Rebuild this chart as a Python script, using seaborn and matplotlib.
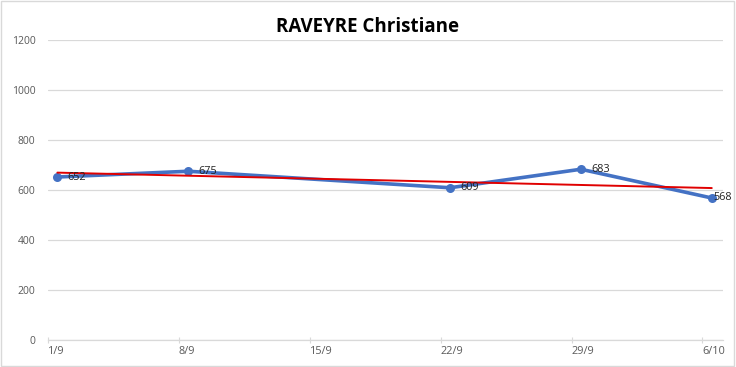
import numpy as np
import pandas as pd
import matplotlib
matplotlib.use("Agg")
import matplotlib.pyplot as plt
import seaborn as sns
from matplotlib.patches import Rectangle

title = "RAVEYRE Christiane"
days = [0, 7, 21, 28, 35]          # days since 1/9
values = [652, 675, 609, 683, 568]
tick_days = [0, 7, 14, 21, 28, 35]
tick_labels = ["1/9", "8/9", "15/9", "22/9", "29/9", "6/10"]
y_ticks = [0, 200, 400, 600, 800, 1000, 1200]

sns.set_theme(style="white")
plt.rcParams['font.family'] = ['Open Sans', 'DejaVu Sans']

fig = plt.figure(figsize=(7.36, 3.67), dpi=100)
ax = fig.add_axes([48/736, 1-340/367, (723-48)/736, (340-40)/367])

x = np.array(days) + 0.5
df = pd.DataFrame({"x": x, "y": values})
sns.lineplot(data=df, x="x", y="y", ax=ax, color="#4472C4", linewidth=2.6,
             marker="o", markersize=6.5, markeredgewidth=0, zorder=3)

# linear trend line
coef = np.polyfit(x, values, 1)
tx = np.array([x[0], x[-1]])
sns.lineplot(x=tx, y=np.polyval(coef, tx), ax=ax, color="#E00000", linewidth=1.4, zorder=4)

n = len(values)
for i, (xi, yi) in enumerate(zip(x, values)):
    off = 0.55 if i < n - 1 else 0.1
    ax.text(xi + off, yi, str(yi), fontsize=7.8, color="#222222", va="center", ha="left", zorder=5)

ax.set_xlim(0, 36.1)
ax.set_ylim(0, 1200)
ax.set_yticks(y_ticks)
ax.set_yticklabels([str(v) for v in y_ticks], fontsize=7.5, color="#595959")
ax.set_xticks(tick_days)
ax.set_xticklabels(tick_labels, fontsize=7.8, color="#595959")
ax.set_xlabel("")
ax.set_ylabel("")
ax.grid(axis="y", color="#D9D9D9", linewidth=0.9)
ax.set_axisbelow(True)
for s in ["top", "right", "left"]:
    ax.spines[s].set_visible(False)
ax.spines["bottom"].set_color("#D9D9D9")
ax.spines["bottom"].set_linewidth(0.9)
ax.tick_params(axis="x", bottom=True, length=4, width=0.8, color="#D9D9D9", pad=2, direction="inout")
ax.tick_params(axis="y", left=False, pad=3)
for lbl in ax.get_xticklabels():
    lbl.set_horizontalalignment("left")

fig.text(367/736, 1-27/367, title, ha="center", va="center", fontsize=13.5, fontweight="bold", color="#000000")
fig.patches.append(Rectangle((0.002, 0.003), 0.995, 0.994, transform=fig.transFigure,
                             fill=False, edgecolor="#D9D9D9", linewidth=1))

fig.savefig("out.png", dpi=100)
